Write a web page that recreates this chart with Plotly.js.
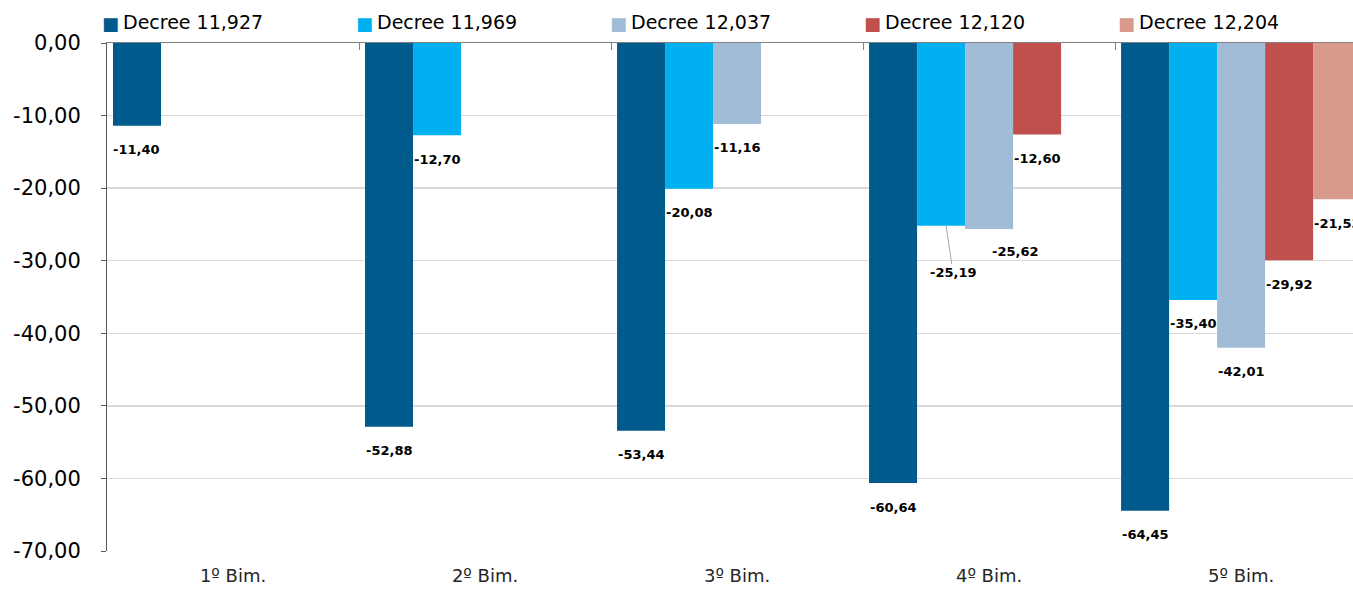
<!DOCTYPE html>
<html>
<head>
<meta charset="utf-8">
<script src="https://cdn.plot.ly/plotly-3.0.1.min.js"></script>
<style>html,body{margin:0;padding:0;background:#fff;overflow:hidden}#chart{width:1353px;height:590px}</style>
</head>
<body>
<div id="chart"></div>
<script>
// ---- data ----
const categories = ['1º Bim.', '2º Bim.', '3º Bim.', '4º Bim.', '5º Bim.'];
const seriesNames = ['Decree 11,927', 'Decree 11,969', 'Decree 12,037', 'Decree 12,120', 'Decree 12,204'];
const decree11927 = [-11.40, -52.88, -53.44, -60.64, -64.45];
const decree11969 = [null, -12.70, -20.08, -25.19, -35.40];
const decree12037 = [null, null, -11.16, -25.62, -42.01];
const decree12120 = [null, null, null, -12.60, -29.92];
const decree12204 = [null, null, null, null, -21.53];
const yTickVals = [0, -10, -20, -30, -40, -50, -60, -70];
const yTickText = ['0,00', '-10,00', '-20,00', '-30,00', '-40,00', '-50,00', '-60,00', '-70,00'];

// ---- styles ----
const seriesValues = [decree11927, decree11969, decree12037, decree12120, decree12204];
const colors = ['#005A8B', '#00B0F0', '#A0BCD6', '#C0504D', '#D99A8E'];
const FONT = 'DejaVu Sans, Liberation Sans, sans-serif';
const W = 1353, H = 590;
const margin = {l: 107, r: 0, t: 43, b: 39, autoexpand: false};
const plotW = W - margin.l - margin.r, plotH = H - margin.t - margin.b;
const xRange = [-0.5, 4.444];
const bargap = 0.0476;
const pxPerCat = plotW / (xRange[1] - xRange[0]);
const slotPx = pxPerCat * (1 - bargap) / seriesValues.length;
const fmt = v => v.toFixed(2).replace('.', ',');
const pxToPaperX = px => (px - margin.l) / plotW;
const pxToPaperY = py => (H - margin.b - py) / plotH;

const traces = seriesValues.map((vals, i) => ({
  type: 'bar',
  name: seriesNames[i],
  x: categories,
  y: vals,
  marker: {color: colors[i], line: {width: 0}},
  hoverinfo: 'skip',
  showlegend: false
}));
traces.push({type: 'scatter', x: [0], y: [null], xaxis: 'x2', yaxis: 'y',
  showlegend: false, hoverinfo: 'skip', mode: 'markers'});

const annotations = [];
seriesValues.forEach((vals, i) => {
  vals.forEach((v, j) => {
    if (v === null) return;
    const base = (i - (seriesValues.length - 1) / 2) * slotPx;
    const a = {
      xref: 'x', yref: 'y', x: categories[j], y: v,
      text: fmt(v), showarrow: false,
      font: {family: FONT, size: 13, color: '#000', weight: 'bold'},
      xshift: base, yshift: -24
    };
    if (i === 2 && j === 3) { a.xshift = base + 26; a.yshift = -23; }
    if (i === 1 && j === 3) {
      a.showarrow = true; a.arrowhead = 0; a.arrowwidth = 1; a.arrowcolor = '#A6A6A6';
      a.standoff = 0; a.xshift = base + 5; a.yshift = 0; a.ax = 7; a.ay = 47;
    }
    annotations.push(a);
  });
});

// legend row (drawn as annotations so it stays on one line like the original)
const legendStart = 101, legendStep = 254, legendTextGap = 21, legendY = 22;
seriesNames.forEach((name, i) => {
  const x0 = legendStart + i * legendStep;
  annotations.push({
    xref: 'paper', yref: 'paper', x: pxToPaperX(x0), y: pxToPaperY(legendY + 1),
    xanchor: 'left', yanchor: 'middle', showarrow: false, borderpad: 0,
    text: '■', font: {family: FONT, size: 18, color: colors[i]}
  });
  annotations.push({
    xref: 'paper', yref: 'paper', x: pxToPaperX(x0 + legendTextGap), y: pxToPaperY(legendY),
    xanchor: 'left', yanchor: 'middle', showarrow: false, borderpad: 0,
    text: name, font: {family: FONT, size: 19, color: '#000'}
  });
});

const layout = {
  width: W, height: H,
  margin: margin,
  paper_bgcolor: '#fff', plot_bgcolor: '#fff',
  barmode: 'group', bargap: bargap, bargroupgap: 0,
  font: {family: FONT, color: '#000'},
  showlegend: false,
  xaxis: {
    type: 'category', range: xRange, fixedrange: true,
    showline: false, showgrid: false, zeroline: false, ticks: '',
    tickfont: {family: FONT, size: 18, color: '#262626'},
    ticklabelstandoff: 12
  },
  xaxis2: {
    type: 'linear', overlaying: 'x', side: 'top', anchor: 'y', range: xRange,
    showline: true, linecolor: '#808080', linewidth: 1.5,
    ticks: 'inside', tickvals: [0.5, 1.5, 2.5, 3.5], ticklen: 7, tickcolor: '#808080', tickwidth: 1,
    showticklabels: false, showgrid: false, zeroline: false, fixedrange: true
  },
  yaxis: {
    range: [-70, 0], fixedrange: true,
    tickvals: yTickVals, ticktext: yTickText,
    showline: true, linecolor: '#595959', linewidth: 1,
    ticks: 'outside', ticklen: 5, tickcolor: '#595959',
    showgrid: true, gridcolor: '#D9D9D9', gridwidth: 1.5, zeroline: false,
    tickfont: {family: FONT, size: 21, color: '#000'},
    ticklabelstandoff: 16
  },
  annotations: annotations
};

Plotly.newPlot('chart', traces, layout, {displayModeBar: false, staticPlot: true});
</script>
</body>
</html>
